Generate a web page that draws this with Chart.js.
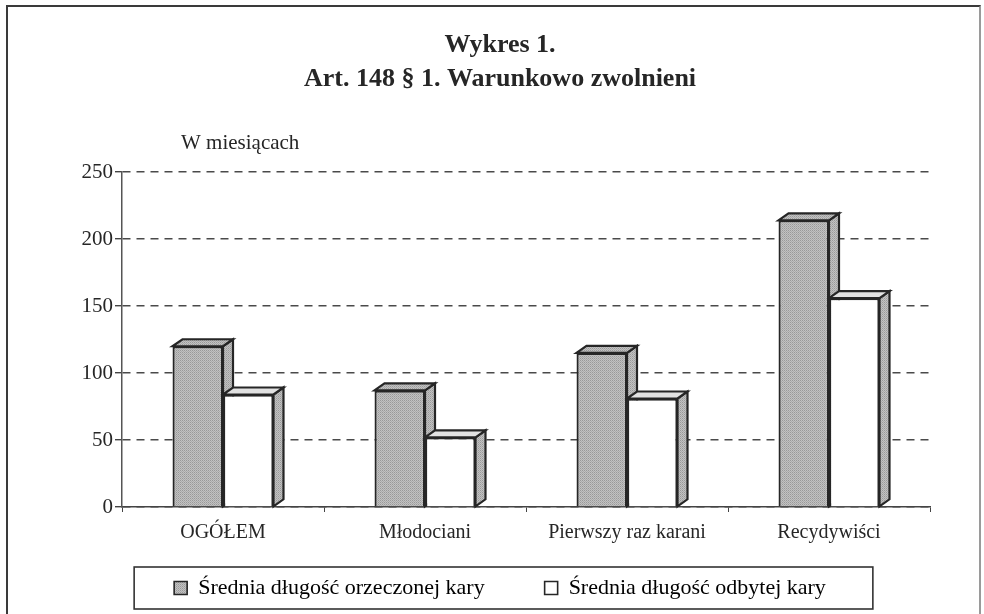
<!DOCTYPE HTML>
<html>

<head>
    <meta charset="UTF-8">
    <title>Wykres 1. Warunkowo zwolnieni</title>
    <script src="https://cdn.jsdelivr.net/npm/chart.js"></script>
    <style>
        html, body { margin: 0; padding: 0; background: #fff; overflow: hidden; }
        #wrap { position: relative; width: 984px; height: 614px; }
        #frame { position: absolute; left: 6px; top: 5px; width: 975px; height: 620px;
                 border: 2px solid #3a3a3a; border-right-color: #9a9a9a; box-sizing: border-box; }
        canvas { position: absolute; left: 0; top: 0; }
    </style>
</head>

<body>
    <div id="wrap">
        <div id="frame"></div>
        <canvas id="myChart" width="984" height="614"></canvas>
    </div>
    <script>
        var categories = ['OGÓŁEM', 'Młodociani', 'Pierwszy raz karani', 'Recydywiści'];
        var orzeczona = [120, 87, 115, 214];   // Średnia długość orzeczonej kary
        var odbyta = [84, 52, 81, 156];        // Średnia długość odbytej kary
        var yTicks = [0, 50, 100, 150, 200, 250];

        var serif = '"Liberation Serif", "Times New Roman", serif';
        var ink = '#262626';

        // stippled grey, like the printed halftone
        function stipple() {
            var c = document.createElement('canvas');
            c.width = 2; c.height = 2;
            var g = c.getContext('2d');
            g.fillStyle = '#c2c2c2'; g.fillRect(0, 0, 2, 2);
            g.fillStyle = '#999999'; g.fillRect(0, 0, 1, 1);
            g.fillStyle = '#ababab'; g.fillRect(1, 1, 1, 1);
            return g.createPattern(c, 'repeat');
        }

        var ctx = document.getElementById('myChart').getContext('2d');
        var grey = stipple();

        // side and top faces behind the front of each bar
        var depth = { x: 10, y: 7 };
        var bars3d = {
            id: 'bars3d',
            beforeDatasetsDraw: function (chart) {
                var c = chart.ctx;
                var metas = [chart.getDatasetMeta(0), chart.getDatasetMeta(1)];
                c.save();
                c.lineWidth = 2.2;
                c.strokeStyle = ink;
                for (var i = 0; i < categories.length; i++) {
                    metas.forEach(function (m, d) {
                        var b = m.data[i];
                        var l = b.x - b.width / 2, r = b.x + b.width / 2;
                        var t = b.y, base = b.base;
                        c.beginPath();
                        c.moveTo(r, t); c.lineTo(r + depth.x, t - depth.y);
                        c.lineTo(r + depth.x, base - depth.y); c.lineTo(r, base);
                        c.closePath();
                        c.fillStyle = grey; c.fill(); c.stroke();
                        c.beginPath();
                        c.moveTo(l, t); c.lineTo(l + depth.x, t - depth.y);
                        c.lineTo(r + depth.x, t - depth.y); c.lineTo(r, t);
                        c.closePath();
                        c.fillStyle = d === 0 ? grey : '#e2e2e2'; c.fill(); c.stroke();
                    });
                }
                c.restore();
            }
        };

        // the legend keeps a wide gap between its items (labels.padding), which also
        // pushes the row down; give its box room and put the row under the axis labels
        var legendRow = {
            id: 'legendRow',
            afterLayout: function (chart) {
                var lg = chart.legend;
                var pad = lg.options.labels.padding;
                var top = chart.chartArea.bottom + 81 - pad - 11;
                lg.top = top;
                lg.bottom = top + pad + 34;
                lg.height = lg.bottom - lg.top;
            }
        };

        var extras = {
            id: 'extras',
            afterDraw: function (chart) {
                var c = chart.ctx, a = chart.chartArea;
                c.save();
                c.fillStyle = ink;
                c.font = '21px ' + serif;
                c.textBaseline = 'middle';
                c.fillText('W miesiącach', a.left + 59, a.top - 29);
                // box round the legend
                var hb = chart.legend.legendHitBoxes;
                if (hb && hb.length) {
                    var first = hb[0], last = hb[hb.length - 1];
                    var x1 = first.left - 40, x2 = last.left + last.width + 47;
                    var cy = first.top + first.height / 2;
                    c.strokeStyle = '#333';
                    c.lineWidth = 1.6;
                    c.strokeRect(x1, cy - 21, x2 - x1, 42);
                }
                c.restore();
            }
        };

        var chart = new Chart(ctx, {
            type: 'bar',
            data: {
                labels: categories,
                datasets: [{
                    label: 'Średnia długość orzeczonej kary',
                    data: orzeczona,
                    backgroundColor: grey,
                    borderColor: ink,
                    borderWidth: 2.2,
                    categoryPercentage: 0.5,
                    barPercentage: 1
                }, {
                    label: 'Średnia długość odbytej kary',
                    data: odbyta,
                    backgroundColor: '#ffffff',
                    borderColor: ink,
                    borderWidth: 2.2,
                    categoryPercentage: 0.5,
                    barPercentage: 1
                }]
            },
            options: {
                responsive: false,
                animation: false,
                layout: { padding: { left: 26, right: 10, top: 0, bottom: 30 } },
                plugins: {
                    tooltip: { enabled: false },
                    title: {
                        display: true,
                        text: ['Wykres 1.', 'Art. 148 § 1. Warunkowo zwolnieni'],
                        color: ink,
                        font: { family: serif, size: 26, weight: 'bold', lineHeight: 1.31 },
                        padding: { top: 28, bottom: 76 }
                    },
                    legend: {
                        position: 'bottom',
                        maxHeight: 30,
                        labels: {
                            color: ink,
                            font: { family: serif, size: 22 },
                            boxWidth: 13,
                            boxHeight: 13,
                            padding: 60,
                            generateLabels: function (chart) {
                                return chart.data.datasets.map(function (ds, i) {
                                    return {
                                        text: ds.label,
                                        fillStyle: ds.backgroundColor,
                                        strokeStyle: ink,
                                        lineWidth: 1.6,
                                        datasetIndex: i
                                    };
                                });
                            }
                        }
                    }
                },
                scales: {
                    x: {
                        grid: { drawOnChartArea: false, drawTicks: true, tickLength: 5, color: '#444', tickColor: '#444' },
                        border: { display: true, color: '#444', width: 1.5 },
                        ticks: { color: ink, font: { family: serif, size: 20 }, padding: 9 }
                    },
                    y: {
                        min: 0,
                        max: 250,
                        afterFit: function (s) { s.width = 96; },
                        afterBuildTicks: function (s) { s.ticks = yTicks.map(function (v) { return { value: v }; }); },
                        grid: {
                            color: '#4a4a4a',
                            lineWidth: 1.4,
                            tickLength: 7,
                            tickColor: '#444',
                            tickBorderDash: []
                        },
                        border: { display: true, color: '#555', width: 1.5, dash: [8, 6] },
                        ticks: { color: ink, font: { family: serif, size: 21 }, padding: 2 }
                    },
                    y2: {
                        position: 'right',
                        display: true,
                        afterFit: function (s) { s.width = 44; },
                        grid: { display: false },
                        border: { display: false },
                        ticks: { display: false }
                    }
                }
            },
            plugins: [bars3d, legendRow, extras]
        });
    </script>
</body>

</html>
